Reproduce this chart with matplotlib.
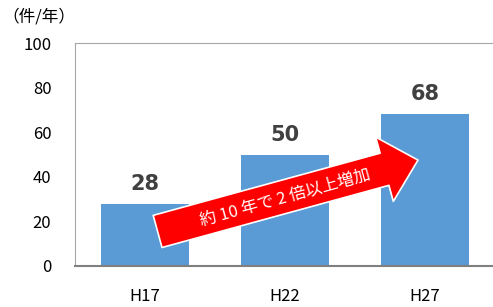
import matplotlib.pyplot as plt
from matplotlib.patches import FancyArrowPatch
import numpy as np

plt.rcParams['font.family'] = ['Noto Sans CJK JP', 'DejaVu Sans']

# data
years = ['H17', 'H22', 'H27']
counts = [28, 50, 68]
yticks = [0, 20, 40, 60, 80, 100]

W, H = 493, 307
fig = plt.figure(figsize=(W / 100, H / 100), dpi=100)
ax = fig.add_axes([75 / W, 1 - 266 / H, 420 / W, (266 - 43) / H])

x = np.arange(len(years))
ax.bar(x, counts, width=0.63, color='#5B9BD5', zorder=2)

# value labels
for xi, v in zip(x, counts):
    ax.annotate(str(v), (xi, v), xytext=(0, 10), textcoords='offset points',
                ha='center', va='baseline', fontsize=15, fontweight='bold',
                color='#404040', family='DejaVu Sans')

ax.set_xlim(-0.5, 2.5)
ax.set_ylim(0, 100)
ax.set_xticks(x)
ax.set_xticklabels(years)
ax.set_yticks(yticks)
ax.tick_params(axis='both', length=0, labelsize=12, colors='black')
ax.tick_params(axis='x', pad=16)
ax.tick_params(axis='y', pad=17)

for s in ['left', 'top']:
    ax.spines[s].set_color('#A6A6A6')
ax.spines['bottom'].set_color('#808080')
ax.spines['bottom'].set_linewidth(1.5)
ax.spines['right'].set_visible(False)

fig.text(2 / W, 1 - 17 / H, '（件/年）', fontsize=12, va='center', ha='left')

# red arrow across the bars
arrow = FancyArrowPatch((0.09, 15.5), (1.95, 47.5),
                        arrowstyle='simple,head_length=25,head_width=48,tail_width=24',
                        mutation_scale=1, facecolor='#FF0000', edgecolor='white',
                        linewidth=1.2, zorder=4, shrinkA=0, shrinkB=0)
ax.add_patch(arrow)
ax.text(1.0, 30.5, '約 10 年で 2 倍以上増加', rotation=15.5, rotation_mode='anchor',
        ha='center', va='center', color='white', fontsize=12, zorder=5)

fig.savefig('out.png', dpi=100)
